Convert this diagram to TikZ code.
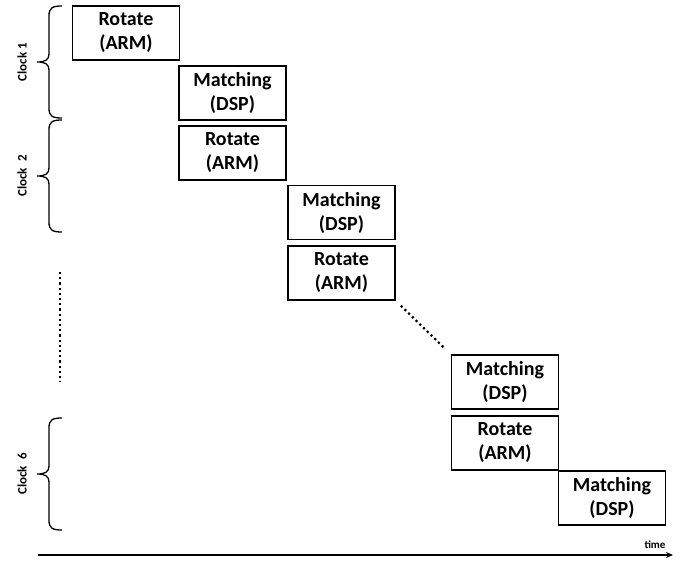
\documentclass[tikz,border=0pt]{standalone}
\usepackage{fontspec}
\setmainfont{Carlito}
\usetikzlibrary{arrows.meta}
\begin{document}
\begin{tikzpicture}[x=1pt,y=-1pt,
  box/.style={draw,line width=1.6pt,minimum width=107pt,minimum height=54pt,align=center,inner sep=0pt,
    font=\fontsize{20}{24}\selectfont\bfseries},
  clocklabel/.style={rotate=90,font=\fontsize{13}{14}\selectfont\bfseries},
  dots/.style={line width=2.2pt,dash pattern=on 2.2pt off 3pt},
  clkbr/.pic={\draw[line width=1.3pt] (0,0) .. controls (-10,0) and (-13,2) .. (-13,10) -- (-13,48)
      .. controls (-13,54) and (-17,56) .. (-25,56) .. controls (-17,56) and (-13,58) .. (-13,64)
      -- (-13,102) .. controls (-13,110) and (-10,112) .. (0,112);}]
\useasboundingbox (0,0) rectangle (681,565);
\node[box] (b1) at (126,33) {Rotate\\(ARM)};
\node[box] (b2) at (232.5,93) {Matching\\(DSP)};
\node[box] (b3) at (232.5,153) {Rotate\\(ARM)};
\node[box] (b4) at (341.5,212.5) {Matching\\(DSP)};
\node[box] (b5) at (341.5,273) {Rotate\\(ARM)};
\node[box] (b6) at (505,382) {Matching\\(DSP)};
\node[box] (b7) at (505,443) {Rotate\\(ARM)};
\node[box] (b8) at (612,498) {Matching\\(DSP)};
\draw[dots,shorten <=7pt,shorten >=9pt] (b5.south east) -- (b6.north west);
\coordinate (v1) at (60,272);
\coordinate (v2) at (60,382);
\draw[dots] (v1) -- (v2);
\pic at (62,6) {clkbr};
\pic at (62,120) {clkbr};
\pic at (62,418) {clkbr};
\node[clocklabel] (l1) at (22,62) {Clock 1};
\node[clocklabel] (l2) at (22,176) {Clock\ \ 2};
\node[clocklabel] (l6) at (22,474) {Clock\ \ 6};
\coordinate (t0) at (38,555);
\coordinate (t1) at (673,555);
\draw[line width=1.3pt,-{Stealth[length=7pt,width=6pt]}] (t0) -- (t1);
\node[font=\fontsize{11}{12}\selectfont\bfseries] (tl) at (655,545) {time};
\end{tikzpicture}
\end{document}
